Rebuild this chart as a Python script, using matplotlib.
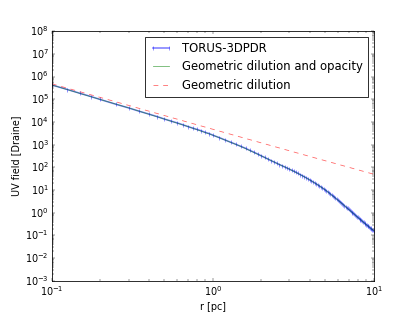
import numpy as np
import matplotlib
matplotlib.use("Agg")
import matplotlib.pyplot as plt

plt.style.use("classic")

# TORUS-3DPDR samples: radius [pc] and log10 of UV field [Draine]
r_torus = [0.1, 0.125, 0.15, 0.175, 0.2, 0.25, 0.3, 0.35, 0.4, 0.45, 0.5,
           0.55, 0.6, 0.65, 0.7, 0.75, 0.8, 0.85, 0.9, 0.95, 1.0,
           1.1, 1.2, 1.3, 1.4, 1.5, 1.6, 1.7, 1.8, 1.9, 2.0,
           2.1, 2.2, 2.3, 2.4, 2.5, 2.6, 2.7, 2.8, 2.9, 3.0,
           3.1, 3.2, 3.3, 3.4, 3.5, 3.6, 3.7, 3.8, 3.9, 4.0,
           4.1, 4.2, 4.3, 4.4, 4.5, 4.6, 4.7, 4.8, 4.9, 5.0,
           5.1, 5.2, 5.3, 5.4, 5.5, 5.6, 5.7, 5.8, 5.9, 6.0,
           6.1, 6.2, 6.3, 6.4, 6.5, 6.6, 6.7, 6.8, 6.9, 7.0,
           7.1, 7.2, 7.3, 7.4, 7.5, 7.6, 7.7, 7.8, 7.9, 8.0,
           8.1, 8.2, 8.3, 8.4, 8.5, 8.6, 8.7, 8.8, 8.9, 9.0,
           9.1, 9.2, 9.3, 9.4, 9.5, 9.6, 9.7, 9.8, 9.9, 10.0]
log_uv_torus = [5.63, 5.43, 5.26, 5.12, 4.99, 4.78, 4.62, 4.47, 4.35, 4.24, 4.13,
                4.04, 3.96, 3.88, 3.80, 3.73, 3.67, 3.61, 3.54, 3.49, 3.42,
                3.31, 3.20, 3.10, 3.01, 2.92, 2.84, 2.75, 2.67, 2.59, 2.51,
                2.44, 2.37, 2.30, 2.24, 2.18, 2.12, 2.07, 2.02, 1.97, 1.92,
                1.87, 1.83, 1.78, 1.73, 1.68, 1.64, 1.59, 1.55, 1.50, 1.45,
                1.41, 1.36, 1.32, 1.27, 1.23, 1.18, 1.14, 1.10, 1.05, 1.01,
                0.96, 0.92, 0.88, 0.83, 0.78, 0.74, 0.70, 0.65, 0.60, 0.56,
                0.52, 0.48, 0.44, 0.40, 0.36, 0.31, 0.27, 0.23, 0.19, 0.15,
                0.12, 0.08, 0.04, 0.00, -0.03, -0.06, -0.10, -0.14, -0.17, -0.21,
                -0.24, -0.27, -0.30, -0.33, -0.37, -0.40, -0.43, -0.46, -0.49, -0.52,
                -0.55, -0.57, -0.60, -0.63, -0.66, -0.69, -0.72, -0.74, -0.77, -0.79]

# geometric dilution with opacity
r_opac = [0.1, 0.2, 0.3, 0.5, 0.7, 1.0, 1.5, 2.0, 2.5, 3.0, 3.5, 4.0, 4.5,
          5.0, 6.0, 7.0, 8.0, 9.0, 10.0]
log_uv_opac = [5.63, 4.99, 4.62, 4.13, 3.80, 3.42, 2.92, 2.51, 2.18, 1.92,
               1.68, 1.45, 1.23, 1.01, 0.56, 0.15, -0.21, -0.52, -0.79]

# pure geometric dilution
r_geo = [0.1, 0.3, 1.0, 3.0, 10.0]
log_uv_geo = [5.68, 4.73, 3.68, 2.73, 1.70]

dpi = 58
fig = plt.figure(figsize=(415.0 / dpi, 312.0 / dpi), dpi=dpi)
ax = fig.add_subplot(111)

ax.plot(r_torus, 10 ** np.array(log_uv_torus), "b-", lw=2, marker="|",
        mew=1.0, ms=5, alpha=0.5, label="TORUS-3DPDR")
ax.plot(r_opac, 10 ** np.array(log_uv_opac), "g-", alpha=0.6,
        label="Geometric dilution and opacity")
ax.plot(r_geo, 10 ** np.array(log_uv_geo), "r--", alpha=0.6,
        label="Geometric dilution")

ax.set_xscale("log")
ax.set_yscale("log")
ax.set_xlim(0.1, 10)
ax.set_ylim(1e-3, 1e8)
ax.set_xlabel("r [pc]")
ax.set_ylabel("UV field [Draine]")
ax.legend(loc="upper right")

fig.savefig("out.png", dpi=dpi)
